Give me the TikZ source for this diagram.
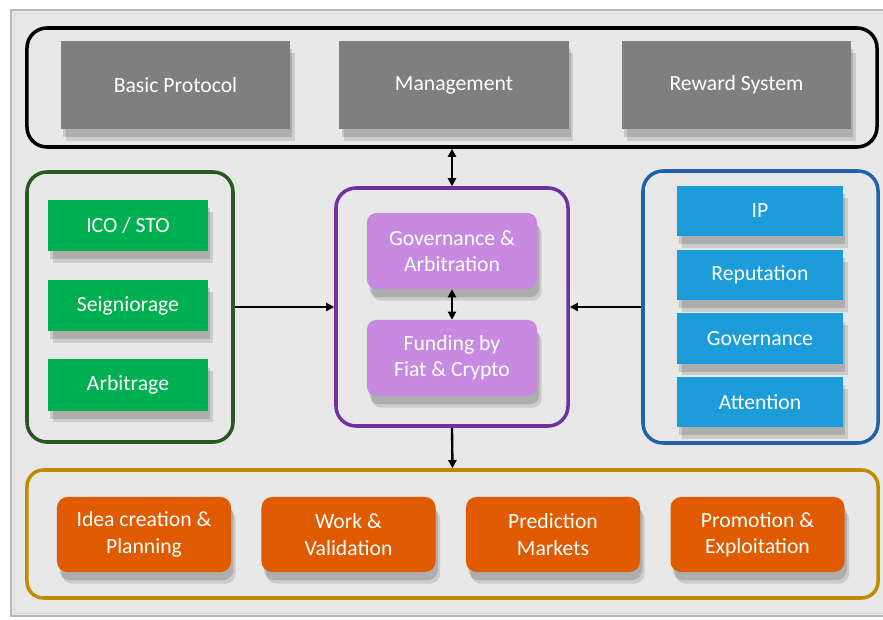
\documentclass[tikz,border=0pt]{standalone}
\usepackage{fontspec}
\setmainfont{Carlito}
\usepackage{tikz}
\usetikzlibrary{shadows,arrows.meta}
\definecolor{bgfill}{HTML}{E8E8E8}
\definecolor{boxgray}{HTML}{7F7F7F}
\definecolor{boxgreen}{HTML}{00B050}
\definecolor{linegreen}{HTML}{275A1F}
\definecolor{boxpurple}{HTML}{C88AE0}
\definecolor{linepurple}{HTML}{7030A0}
\definecolor{boxblue}{HTML}{1C9DD9}
\definecolor{lineblue}{HTML}{1F63A8}
\definecolor{boxorange}{HTML}{E05B00}
\definecolor{linegold}{HTML}{BF8C00}
\tikzset{
	group/.style={draw,line width=3pt,rounded corners=17pt,inner sep=0pt},
	item/.style={draw=none,text=white,inner sep=0pt,align=center,
		font=\fontsize{18.5}{22.5}\selectfont,
		drop shadow={shadow xshift=4pt,shadow yshift=-10pt,opacity=.12,fill=black},
		drop shadow={shadow xshift=2pt,shadow yshift=-7pt,opacity=.14,fill=black}},
	link/.style={draw,black,line width=2pt,-{Triangle[length=7pt,width=7pt]}},
	blink/.style={draw,black,line width=2pt,{Triangle[length=7pt,width=7pt]}-{Triangle[length=7pt,width=7pt]}}
}

\begin{document}
\begin{tikzpicture}[x={(0.03cm,0cm)},y={(0cm,-0.03cm)}]

\useasboundingbox (0,0) rectangle (883,620);
\fill[white] (0,0) rectangle (883,620);
\draw[fill=bgfill,draw=gray!55,line width=1.3pt] (11,10) rectangle (890,616);
\draw[gray!30,line width=.8pt] (14,13) rectangle (890,613);

% groups
\node[group,minimum width=25.5cm,minimum height=3.57cm] (top) at (452,87.5) {};
\node[group,draw=linegreen,minimum width=6.18cm,minimum height=8.1cm] (left) at (130,307) {};
\node[group,draw=linepurple,minimum width=6.96cm,minimum height=7.14cm] (mid) at (452,307) {};
\node[group,draw=lineblue,minimum width=7.05cm,minimum height=8.16cm] (right) at (760.5,307) {};
\node[group,draw=linegold,rounded corners=14pt,minimum width=25.53cm,minimum height=3.84cm] (bottom) at (452.5,534) {};

% top row
\node[item,fill=boxgray,minimum width=6.87cm,minimum height=2.64cm] (basic) at (175.5,85) {Basic Protocol};
\node[item,fill=boxgray,minimum width=6.87cm,minimum height=2.64cm] (mgmt) at (454,85) {Management};
\node[item,fill=boxgray,minimum width=6.87cm,minimum height=2.64cm] (reward) at (736.5,85) {Reward System};

% funding sources
\node[item,fill=boxgreen,minimum width=4.8cm,minimum height=1.53cm] (ico) at (128,225.5) {ICO / STO};
\node[item,fill=boxgreen,minimum width=4.8cm,minimum height=1.53cm] (seign) at (128,305.5) {Seigniorage};
\node[item,fill=boxgreen,minimum width=4.8cm,minimum height=1.53cm] (arbit) at (128,385) {Arbitrage};

% core
\node[item,fill=boxpurple,rounded corners=8pt,minimum width=5.1cm,minimum height=2.28cm] (gov) at (452,251) {Governance \&\\Arbitration};
\node[item,fill=boxpurple,rounded corners=8pt,minimum width=5.1cm,minimum height=2.28cm] (fund) at (452,358) {Funding by\\Fiat \& Crypto};

% tokens
\node[item,fill=boxblue,minimum width=4.98cm,minimum height=1.5cm] (ip) at (760,211) {IP};
\node[item,fill=boxblue,minimum width=4.98cm,minimum height=1.5cm] (rep) at (760,275) {Reputation};
\node[item,fill=boxblue,minimum width=4.98cm,minimum height=1.5cm] (govt) at (760,338.5) {Governance};
\node[item,fill=boxblue,minimum width=4.98cm,minimum height=1.5cm] (att) at (760,402) {Attention};

% activities
\node[item,fill=boxorange,rounded corners=9pt,minimum width=5.22cm,minimum height=2.25cm] (idea) at (144,534.5) {Idea creation \&\\Planning};
\node[item,fill=boxorange,rounded corners=9pt,minimum width=5.22cm,minimum height=2.25cm] (work) at (348.5,534.5) {Work \&\\Validation};
\node[item,fill=boxorange,rounded corners=9pt,minimum width=5.22cm,minimum height=2.25cm] (pred) at (553,534.5) {Prediction\\Markets};
\node[item,fill=boxorange,rounded corners=9pt,minimum width=5.22cm,minimum height=2.25cm] (promo) at (757.5,534.5) {Promotion \&\\Exploitation};

% arrows
\draw[blink] (top.south) to (mid.north);
\draw[blink] (gov.south) to (fund.north);
\draw[link] (left.east) to (mid.west);
\draw[link] (right.west) to (mid.east);
\draw[link] (mid.south) to (bottom.north);

\end{tikzpicture}
\end{document}
